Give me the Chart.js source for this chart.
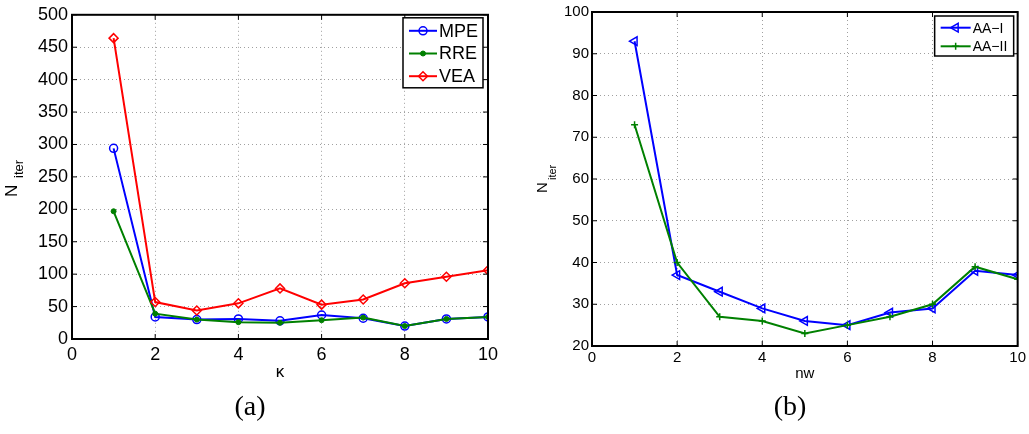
<!DOCTYPE html>
<html>
<head>
<meta charset="utf-8">
<script src="https://cdn.jsdelivr.net/npm/chart.js@4.4.0/dist/chart.umd.min.js"></script>
<style>
    body { margin: 0; background: #fff; width: 1029px; height: 434px; position: relative; overflow: hidden; }
    .pane { position: absolute; top: 0; height: 395px; }
    .cap { position: absolute; top: 390px; width: 80px; text-align: center; font-family: "Liberation Serif", serif; font-size: 28px; color: #000; }
</style>
</head>
<body>
<div class="pane" style="left:0px;width:515px;"><canvas id="chartA"></canvas></div>
<div class="pane" style="left:520px;width:509px;"><canvas id="chartB"></canvas></div>
<div class="cap" style="left:210px;">(a)</div>
<div class="cap" style="left:750px;">(b)</div>
<script>
"use strict";
// (a) number of iterations vs kappa
const Kappa = [1, 2, 3, 4, 5, 6, 7, 8, 9, 10];
const MPE = [294, 34, 30, 31, 28, 37, 32, 20, 31, 34];
const RRE = [197, 39, 30, 26, 25, 29, 33, 20, 31, 34];
const VEA = [464, 57, 44, 55, 78, 53, 61, 86, 96, 106];
const KappaTicks = [0, 2, 4, 6, 8, 10];
const IterTicksA = [0, 50, 100, 150, 200, 250, 300, 350, 400, 450, 500];

// (b) number of iterations vs nw
const NW = [1, 2, 3, 4, 5, 6, 7, 8, 9, 10];
const AA1 = [93, 37, 33, 29, 26, 25, 28, 29, 38, 37];
const AA2 = [73, 40, 27, 26, 23, 25, 27, 30, 39, 36];
const NWTicks = [0, 2, 4, 6, 8, 10];
const IterTicksB = [20, 30, 40, 50, 60, 70, 80, 90, 100];

const FONT = "'Liberation Sans', Arial, sans-serif";

function ToPoints(xs, ys) {
    return xs.map((x, i) => ({ x: x, y: ys[i] }));
}

// box, inward ticks, y title with subscript and a boxed legend (matlab look)
const FramePlugin = {
    id: 'frame',
    afterDraw(chart, args, o) {
        const ctx = chart.ctx;
        const a = chart.chartArea;
        const xs = chart.scales.x, ys = chart.scales.y;
        ctx.save();
        ctx.strokeStyle = '#000';
        ctx.lineWidth = 1;
        ctx.beginPath();
        xs.ticks.forEach(t => {
            const p = xs.getPixelForValue(t.value);
            ctx.moveTo(p, a.bottom); ctx.lineTo(p, a.bottom - o.tick);
            ctx.moveTo(p, a.top); ctx.lineTo(p, a.top + o.tick);
        });
        ys.ticks.forEach(t => {
            const p = ys.getPixelForValue(t.value);
            ctx.moveTo(a.left, p); ctx.lineTo(a.left + o.tick, p);
            ctx.moveTo(a.right, p); ctx.lineTo(a.right - o.tick, p);
        });
        ctx.stroke();
        ctx.lineWidth = o.width;
        ctx.strokeRect(a.left, a.top, a.right - a.left, a.bottom - a.top);

        // y title "N" with subscript "iter"
        const t = o.ytitle;
        ctx.fillStyle = '#000';
        ctx.textAlign = 'left';
        ctx.textBaseline = 'alphabetic';
        ctx.save();
        ctx.translate(t.x, t.y);
        ctx.rotate(-Math.PI / 2);
        ctx.font = t.size + 'px ' + FONT;
        ctx.fillText(t.main, 0, 0);
        ctx.restore();
        ctx.save();
        ctx.translate(t.subX, t.subY);
        ctx.rotate(-Math.PI / 2);
        ctx.font = t.subSize + 'px ' + FONT;
        ctx.fillText(t.sub, 0, 0);
        ctx.restore();

        // legend
        const L = o.legend;
        const bx = a.right - L.dx - L.w, by = a.top + L.dy;
        ctx.fillStyle = '#fff';
        ctx.fillRect(bx, by, L.w, L.h);
        ctx.strokeStyle = '#000';
        ctx.lineWidth = 1.5;
        ctx.strokeRect(bx, by, L.w, L.h);
        ctx.font = L.font + 'px ' + FONT;
        ctx.textBaseline = 'middle';
        chart.data.datasets.forEach((ds, i) => {
            const y = by + L.first + i * L.step;
            ctx.strokeStyle = ds.borderColor;
            ctx.lineWidth = ds.borderWidth;
            ctx.beginPath();
            ctx.moveTo(bx + L.x0, y);
            ctx.lineTo(bx + L.x1, y);
            ctx.stroke();
            ctx.fillStyle = ds.pointBackgroundColor;
            ctx.lineWidth = ds.pointBorderWidth;
            Chart.helpers.drawPoint(ctx, {
                pointStyle: ds.pointStyle,
                rotation: ds.pointRotation || 0,
                radius: ds.pointRadius,
                borderWidth: ds.pointBorderWidth
            }, bx + (L.x0 + L.x1) / 2, y);
            ctx.fillStyle = '#000';
            ctx.fillText(ds.label, bx + L.tx, y + 1);
        });
        ctx.restore();
    }
};

function MakeChart(id, datasets, cfg) {
    return new Chart(document.getElementById(id), {
        type: 'line',
        data: { datasets: datasets },
        options: {
            responsive: true,
            maintainAspectRatio: false,
            animation: false,
            layout: { padding: { top: cfg.padTop, right: cfg.padRight, left: 0, bottom: 0 } },
            plugins: {
                legend: { display: false },
                tooltip: { enabled: false },
                frame: cfg.frame
            },
            scales: {
                x: {
                    type: 'linear',
                    min: cfg.xTicks[0],
                    max: cfg.xTicks[cfg.xTicks.length - 1],
                    afterBuildTicks: s => { s.ticks = cfg.xTicks.map(v => ({ value: v })); },
                    afterFit: s => { s.height = cfg.xHeight; },
                    grid: { color: '#a0a0a0', lineWidth: 1, drawTicks: false },
                    border: { display: false, dash: [1, 3] },
                    ticks: { color: '#000', font: { family: FONT, size: cfg.tickSize }, padding: cfg.xPad, maxRotation: 0, autoSkip: false },
                    title: { display: true, text: cfg.xTitle, color: '#000', font: { family: FONT, size: cfg.titleSize }, padding: { top: 0, bottom: cfg.titlePad } }
                },
                y: {
                    type: 'linear',
                    min: cfg.yTicks[0],
                    max: cfg.yTicks[cfg.yTicks.length - 1],
                    afterBuildTicks: s => { s.ticks = cfg.yTicks.map(v => ({ value: v })); },
                    afterFit: s => { s.width = 72; },
                    grid: { color: '#a0a0a0', lineWidth: 1, drawTicks: false },
                    border: { display: false, dash: [1, 3] },
                    ticks: { color: '#000', font: { family: FONT, size: cfg.tickSize }, padding: cfg.yPad, autoSkip: false }
                }
            }
        },
        plugins: [FramePlugin]
    });
}

MakeChart('chartA', [
    {
        label: 'MPE', data: ToPoints(Kappa, MPE), order: 3,
        borderColor: '#0000ff', borderWidth: 2,
        pointStyle: 'circle', pointRadius: 4, pointBorderWidth: 1.5,
        pointBackgroundColor: 'rgba(255,255,255,0)', pointBorderColor: '#0000ff'
    },
    {
        label: 'RRE', data: ToPoints(Kappa, RRE), order: 2,
        borderColor: '#008000', borderWidth: 2,
        pointStyle: 'circle', pointRadius: 2.5, pointBorderWidth: 1,
        pointBackgroundColor: '#008000', pointBorderColor: '#008000'
    },
    {
        label: 'VEA', data: ToPoints(Kappa, VEA), order: 1,
        borderColor: '#ff0000', borderWidth: 2,
        pointStyle: 'rectRot', pointRadius: 4.5, pointBorderWidth: 1.5,
        pointBackgroundColor: 'rgba(255,255,255,0)', pointBorderColor: '#ff0000'
    }
], {
    padTop: 13, padRight: 27, xHeight: 56, tickSize: 18, titleSize: 17, titlePad: 12,
    xPad: 5, yPad: 4, xTitle: 'κ', xTicks: KappaTicks, yTicks: IterTicksA,
    frame: {
        tick: 5, width: 2,
        ytitle: { main: 'N', sub: 'iter', x: 17, y: 197, size: 17, subX: 23, subY: 178, subSize: 13 },
        legend: { dx: 5, dy: 3, w: 80, h: 70, first: 13, step: 22.7, x0: 6, x1: 34, tx: 36, font: 18 }
    }
});

MakeChart('chartB', [
    {
        label: 'AA−I', data: ToPoints(NW, AA1), order: 2,
        borderColor: '#0000ff', borderWidth: 2,
        pointStyle: 'triangle', pointRotation: -90, pointRadius: 5, pointBorderWidth: 1.5,
        pointBackgroundColor: 'rgba(255,255,255,0)', pointBorderColor: '#0000ff'
    },
    {
        label: 'AA−II', data: ToPoints(NW, AA2), order: 1,
        borderColor: '#008000', borderWidth: 2,
        pointStyle: 'cross', pointRadius: 3.5, pointBorderWidth: 1.5,
        pointBackgroundColor: '#008000', pointBorderColor: '#008000'
    }
], {
    padTop: 9, padRight: 10, xHeight: 49, tickSize: 15, titleSize: 15, titlePad: 12,
    xPad: 3, yPad: 3, xTitle: 'nw', xTicks: NWTicks, yTicks: IterTicksB,
    frame: {
        tick: 5, width: 2,
        ytitle: { main: 'N', sub: 'iter', x: 27, y: 193, size: 15, subX: 36, subY: 180, subSize: 11 },
        legend: { dx: 4, dy: 4, w: 79, h: 40, first: 11.7, step: 18.6, x0: 6, x1: 36, tx: 38, font: 14 }
    }
});
</script>
</body>
</html>
